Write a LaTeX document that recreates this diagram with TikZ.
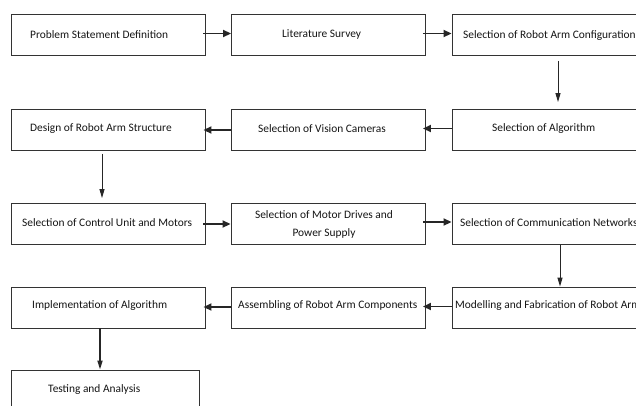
\documentclass[tikz,border=0pt]{standalone}
\usepackage{fontspec}
\setmainfont{Carlito}
\usetikzlibrary{arrows.meta,calc}
\definecolor{edge}{HTML}{333333}
\definecolor{ink}{HTML}{151515}
\tikzset{
  box/.style={draw=edge, line width=0.9pt, minimum width=194pt, minimum height=41pt, inner sep=0pt, fill=white},
  txt/.style={anchor=west, inner sep=0pt, text=ink, font=\fontsize{11.4}{13}\selectfont},
  arrH/.style={draw=black!85, line width=1.8pt, -{Triangle[length=8pt,width=7pt]}},
  arrV/.style={draw=black!85, line width=1pt, -{Triangle[length=9pt,width=5pt]}}
}
\begin{document}
\begin{tikzpicture}[x=1pt,y=-1pt]
\useasboundingbox (0,0) rectangle (636,405);
\clip (0,0) rectangle (636,405);
\fill[white] (0,0) rectangle (636,405);
% row 1
\node[box] (b1) at (108,35) {};
\node[box] (b2) at (328.5,35) {};
\node[box] (b3) at (549,35) {};
% row 2
\node[box] (b4) at (549,130) {};
\node[box] (b5) at (328.5,130) {};
\node[box] (b6) at (108,130) {};
% row 3
\node[box] (b7) at (108,224) {};
\node[box] (b8) at (328,224) {};
\node[box] (b9) at (549,224) {};
% row 4
\node[box] (b10) at (549,307.5) {};
\node[box] (b11) at (328.5,307.5) {};
\node[box] (b12) at (108,307.5) {};
% row 5
\node[box, minimum width=188pt] (b13) at (105,390.5) {};
% texts
\node[txt] (t1) at (30,35) {Problem Statement Definition};
\node[txt] (t2) at (282,34) {Literature Survey};
\node[txt] (t3) at (463,36) {Selection of Robot Arm Configuration};
\node[txt] (t4) at (492,129) {Selection of Algorithm};
\node[txt] (t5) at (258,129) {Selection of Vision Cameras};
\node[txt] (t6) at (30,129) {Design of Robot Arm Structure};
\node[txt] (t7) at (22,223) {Selection of Control Unit and Motors};
\node[txt, anchor=center, align=center, font=\fontsize{11.4}{18}\selectfont] (t8) at (324,224) {Selection of Motor Drives and\\Power Supply};
\node[txt] (t9) at (460,223) {Selection of Communication Networks};
\node[txt] (t10) at (455,306) {Modelling and Fabrication of Robot Arm};
\node[txt] (t11) at (238,306) {Assembling of Robot Arm Components};
\node[txt] (t12) at (32,306) {Implementation of Algorithm};
\node[txt] (t13) at (48,390) {Testing and Analysis};
% arrows
\draw[arrH] ($(b1.east)+(-2,-1.5)$) -- ($(b2.west)+(0,-1.5)$);
\draw[arrH] ($(b2.east)+(-3,-1.5)$) -- ($(b3.west)+(0,-1.5)$);
\draw[arrV] ($(b3.south)+(9,5)$) -- ($(b4.north)+(9,-7)$);
\draw[arrH] ($(b4.west)+(0,-1.5)$) -- ($(b5.east)+(-3,-1.5)$);
\draw[arrH] ($(b5.west)+(0,0)$) -- ($(b6.east)+(-2,0)$);
\draw[arrV] ($(b6.south)+(-6,3)$) -- ($(b7.north)+(-6,-5)$);
\draw[arrH] ($(b7.east)+(-2,0)$) -- ($(b8.west)+(0,0)$);
\draw[arrH] ($(b8.east)+(-2,-2)$) -- ($(b9.west)+(0,-2)$);
\draw[arrV] ($(b9.south)+(11,0)$) -- ($(b10.north)+(11,0)$);
\draw[arrH] ($(b10.west)+(0,-1)$) -- ($(b11.east)+(-3,-1)$);
\draw[arrH] ($(b11.west)+(0,-0.5)$) -- ($(b12.east)+(-2,-0.5)$);
\draw[arrV, line width=1.6pt] ($(b12.south)+(-8,0)$) -- ($(b13.north)+(-5,0)$);
\end{tikzpicture}
\end{document}
